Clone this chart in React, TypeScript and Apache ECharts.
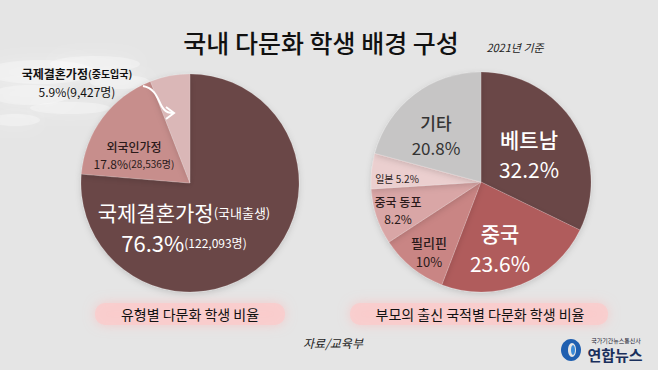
import React, { useEffect, useRef } from "react";
import * as echarts from "echarts";

const typeNames = ["국제결혼가정", "외국인가정", "국제결혼가정"];
const typeNotes = ["국내출생", "", "중도입국"];
const typeShares = [76.3, 17.8, 5.9];
const typeCounts = ["122,093", "28,536", "9,427"];
const typeColors = ["#6b4747", "#c78e8c", "#dab7b7"];

const originNames = ["베트남", "중국", "필리핀", "중국 동포", "일본", "기타"];
const originShares = [32.2, 23.6, 10, 8.2, 5.2, 20.8];
const originColors = ["#6b4747", "#b05b5c", "#c98584", "#d9a6a6", "#ebcfcf", "#c6c5c5"];

const titleText = "국내 다문화 학생 배경 구성";
const baseYear = "2021년 기준";
const leftCaption = "유형별 다문화 학생 비율";
const rightCaption = "부모의 출신 국적별 다문화 학생 비율";
const sourceText = "자료/교육부";

const FONT = "'Noto Sans CJK KR', 'Noto Sans', sans-serif";

export default function App() {
  const ref = useRef<HTMLDivElement>(null);
  useEffect(() => {
    if (!ref.current) return;
    const chart = echarts.init(ref.current, null, { renderer: "svg" });
    const pct = (v: number) => `${v}%`;
    const txt = (x: number, y: number, text: string, style: any, rich?: any) => ({
      type: "text",
      x,
      y,
      z: 100,
      silent: true,
      style: {
        text,
        fontFamily: FONT,
        textAlign: "center",
        textVerticalAlign: "middle",
        ...style,
        ...(rich ? { rich } : {}),
      },
    });
    const r = (fontSize: number, fill: string, lineHeight: number, extra: any = {}) => ({
      fontSize,
      fill,
      lineHeight,
      fontFamily: FONT,
      ...extra,
    });

    const texture = [
      { cx: 40, cy: 72, rx: 55, ry: 12 },
      { cx: 95, cy: 64, rx: 45, ry: 8 },
      { cx: 30, cy: 95, rx: 40, ry: 10 },
      { cx: 120, cy: 82, rx: 30, ry: 7 },
      { cx: 70, cy: 108, rx: 40, ry: 6 },
      { cx: 15, cy: 120, rx: 25, ry: 6 },
    ].map((e) => ({
      type: "ellipse",
      shape: e,
      silent: true,
      style: { fill: "rgba(255,255,255,0.3)", shadowBlur: 18, shadowColor: "rgba(255,255,255,0.9)" },
    }));

    const option: any = {
      animation: false,
      backgroundColor: "#e5e5e5",
      series: [
        {
          type: "pie",
          center: [190, 183],
          radius: 109,
          startAngle: 90,
          label: { show: false },
          labelLine: { show: false },
          itemStyle: { borderColor: "rgba(255,255,255,0.25)", borderWidth: 0.5, shadowBlur: 6, shadowColor: "rgba(0,0,0,0.15)", shadowOffsetY: 2 },
          emphasis: { disabled: true },
          data: typeShares.map((v, i) => ({ value: v, name: typeNames[i] + typeNotes[i], itemStyle: { color: typeColors[i] } })),
        },
        {
          type: "pie",
          center: [481, 182],
          radius: 110,
          startAngle: 90,
          label: { show: false },
          labelLine: { show: false },
          itemStyle: { borderColor: "rgba(255,255,255,0.3)", borderWidth: 0.5, shadowBlur: 6, shadowColor: "rgba(0,0,0,0.15)", shadowOffsetY: 2 },
          emphasis: { disabled: true },
          data: originShares.map((v, i) => ({ value: v, name: originNames[i], itemStyle: { color: originColors[i] } })),
        },
      ],
      graphic: [
        ...texture,
        {
          type: "rect",
          shape: { x: 95, y: 303, width: 190, height: 22, r: 10 },
          silent: true,
          style: { fill: "rgba(250,205,205,0.85)", shadowBlur: 12, shadowColor: "rgba(250,195,195,0.9)" },
        },
        {
          type: "rect",
          shape: { x: 350, y: 303, width: 258, height: 22, r: 10 },
          silent: true,
          style: { fill: "rgba(250,205,205,0.85)", shadowBlur: 12, shadowColor: "rgba(250,195,195,0.9)" },
        },
        txt(321, 42, titleText, { fontSize: 25, fontWeight: 500, fill: "#111" }),
        txt(515, 47, baseYear, { fontSize: 11, fontStyle: "italic", fill: "#222" }),
        // left pie labels
        txt(
          184,
          227,
          `{a|${typeNames[0]}}{b|(${typeNotes[0]})}\n{c|${pct(typeShares[0])}}{d|(${typeCounts[0]}명)}`,
          { fill: "#fff" },
          { a: r(21, "#fff", 30), b: r(13, "#fff", 30), c: r(22, "#fff", 30), d: r(12, "#fff", 30) }
        ),
        txt(
          134,
          155,
          `{a|${typeNames[1]}}\n{c|${pct(typeShares[1])}}{d|(${typeCounts[1]}명)}`,
          { fill: "#2a1a1a" },
          { a: r(12, "#2a1a1a", 17, { fontWeight: 500 }), c: r(12, "#2a1a1a", 17), d: r(10, "#2a1a1a", 17) }
        ),
        txt(
          77,
          82,
          `{a|${typeNames[2]}}{b|(${typeNotes[2]})}\n{c|${pct(typeShares[2])}(${typeCounts[2]}명)}`,
          { fill: "#111" },
          { a: r(12, "#111", 18, { fontWeight: "bold" }), b: r(10, "#111", 18, { fontWeight: "bold" }), c: r(12, "#111", 18) }
        ),
        {
          type: "bezierCurve",
          silent: true,
          z: 100,
          shape: { x1: 143, y1: 86, cpx1: 163, cpy1: 90, cpx2: 156, cpy2: 113, x2: 173, y2: 113 },
          style: { stroke: "#fff", lineWidth: 2, fill: null },
        },
        {
          type: "polyline",
          silent: true,
          z: 100,
          shape: { points: [[166, 107], [174, 113], [166, 119]] },
          style: { stroke: "#fff", lineWidth: 2, fill: null },
        },
        // right pie labels
        txt(529, 154, `{a|${originNames[0]}}\n{b|${pct(originShares[0])}}`, { fill: "#fff" }, { a: r(21, "#fff", 30, { fontWeight: 500 }), b: r(21, "#fff", 30) }),
        txt(500, 248, `{a|${originNames[1]}}\n{b|${pct(originShares[1])}}`, { fill: "#fff" }, { a: r(21, "#fff", 30, { fontWeight: 500 }), b: r(21, "#fff", 30) }),
        txt(429, 252, `{a|${originNames[2]}}\n{b|${pct(originShares[2])}}`, { fill: "#2a1a1a" }, { a: r(13, "#2a1a1a", 19, { fontWeight: 500 }), b: r(13, "#2a1a1a", 19) }),
        txt(398, 210, `{a|${originNames[3]}}\n{b|${pct(originShares[3])}}`, { fill: "#2a1a1a" }, { a: r(12, "#2a1a1a", 17, { fontWeight: 500 }), b: r(12, "#2a1a1a", 17) }),
        txt(397, 178, `${originNames[4]} ${pct(originShares[4])}`, { fontSize: 10, fill: "#2a1a1a" }),
        txt(436, 135, `{a|${originNames[5]}}\n{b|${pct(originShares[5])}}`, { fill: "#333" }, { a: r(17, "#333", 25, { fontWeight: 500 }), b: r(17, "#333", 25) }),
        // captions
        txt(190, 314, leftCaption, { fontSize: 14, fill: "#111" }),
        txt(480, 314, rightCaption, { fontSize: 14, fill: "#111" }),
        txt(333, 342, sourceText, { fontSize: 12, fontStyle: "italic", fill: "#222" }),
        // logo
        { type: "ellipse", silent: true, shape: { cx: 571, cy: 350, rx: 10, ry: 11 }, style: { fill: "#1f5fb0" } },
        { type: "ellipse", silent: true, shape: { cx: 572, cy: 350, rx: 4, ry: 7 }, style: { fill: "#e5e5e5" } },
        { type: "ellipse", silent: true, shape: { cx: 573, cy: 350, rx: 2, ry: 5 }, style: { fill: "#3a8ad8" } },
        txt(616, 340, "국가기간뉴스통신사", { fontSize: 6, fill: "#223" }),
        txt(615, 354, "연합뉴스", { fontSize: 15, fontWeight: "bold", fill: "#1a2f5c" }),
      ],
    };
    chart.setOption(option);
    return () => chart.dispose();
  }, []);
  return <div ref={ref} style={{ position: "fixed", left: 0, top: 0, width: 658, height: 370 }} />;
}
